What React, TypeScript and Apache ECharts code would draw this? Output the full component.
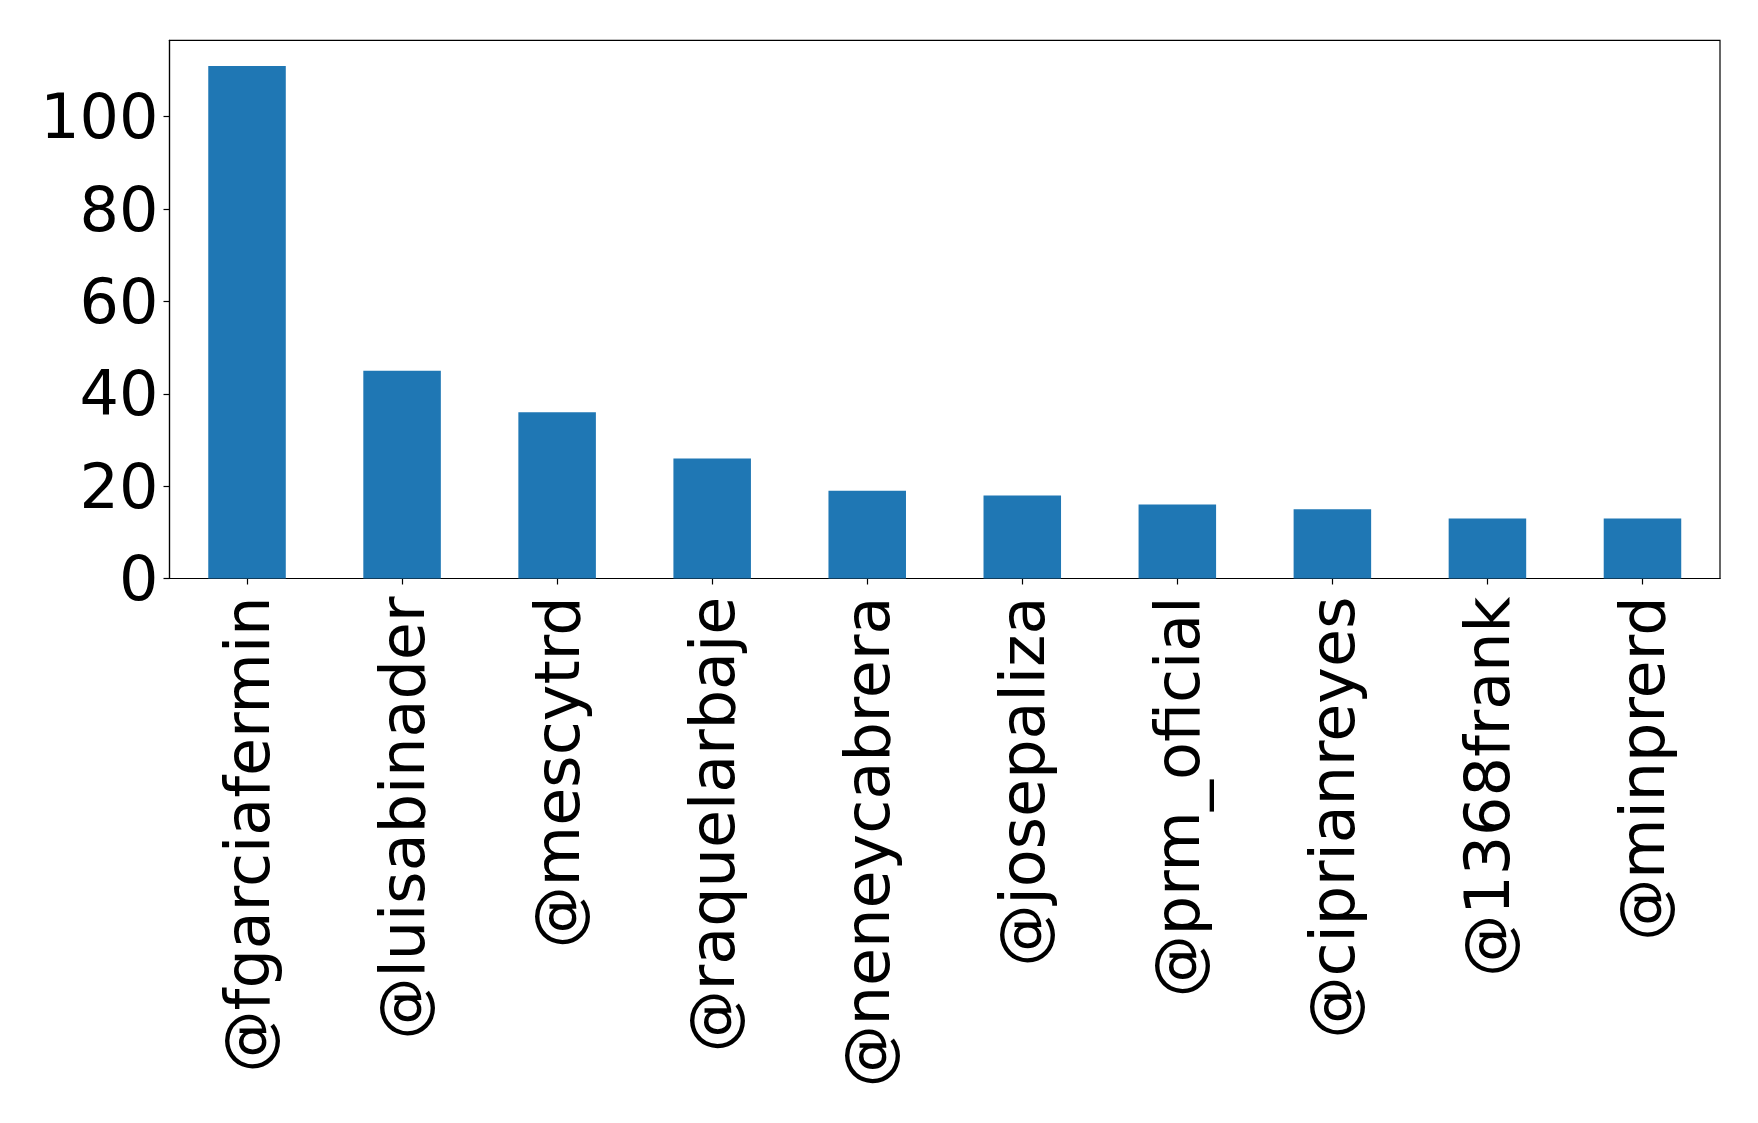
import React, { useEffect, useRef } from "react";
import * as echarts from "echarts";

const categories = [
  "@fgarciafermin",
  "@luisabinader",
  "@mescytrd",
  "@raquelarbaje",
  "@neneycabrera",
  "@josepaliza",
  "@prm_oficial",
  "@ciprianreyes",
  "@1368frank",
  "@minprerd",
];
const values = [111, 45, 36, 26, 19, 18, 16, 15, 13, 13];
const yTicks = [0, 20, 40, 60, 80, 100];

export default function App() {
  const ref = useRef<HTMLDivElement>(null);
  useEffect(() => {
    if (!ref.current) return;
    const chart = echarts.init(ref.current, null, { renderer: "svg" });
    const font = "DejaVu Sans";
    chart.setOption({
      animation: false,
      backgroundColor: "#ffffff",
      grid: {
        left: 169.5,
        top: 40.3,
        right: 38,
        bottom: 544.5,
        show: true,
        borderColor: "#000000",
        borderWidth: 1.2,
        backgroundColor: "transparent",
      },
      xAxis: {
        type: "category",
        data: categories,
        boundaryGap: true,
        axisLine: { show: true, lineStyle: { color: "#000000", width: 1.2 } },
        axisTick: {
          show: true,
          alignWithLabel: true,
          length: 6,
          lineStyle: { color: "#000000", width: 1.2 },
        },
        axisLabel: {
          rotate: 90,
          interval: 0,
          margin: 18,
          color: "#000000",
          fontFamily: font,
          fontSize: 62,
        },
        splitLine: { show: false },
      },
      yAxis: {
        type: "value",
        min: 0,
        max: 116.55,
        interval: 20,
        axisLine: { show: true, lineStyle: { color: "#000000", width: 1.2 } },
        axisTick: {
          show: true,
          length: 6,
          lineStyle: { color: "#000000", width: 1.2 },
          customValues: yTicks,
        },
        axisLabel: {
          margin: 11,
          color: "#000000",
          fontFamily: font,
          fontSize: 62,
          customValues: yTicks,
        },
        splitLine: { show: false },
      },
      series: [
        {
          type: "bar",
          data: values,
          barWidth: "50%",
          itemStyle: { color: "#1f77b4" },
        },
      ],
    });
    return () => chart.dispose();
  }, []);
  return (
    <div
      ref={ref}
      style={{ position: "fixed", left: 0, top: 0, width: 1758, height: 1123, background: "#fff" }}
    />
  );
}
